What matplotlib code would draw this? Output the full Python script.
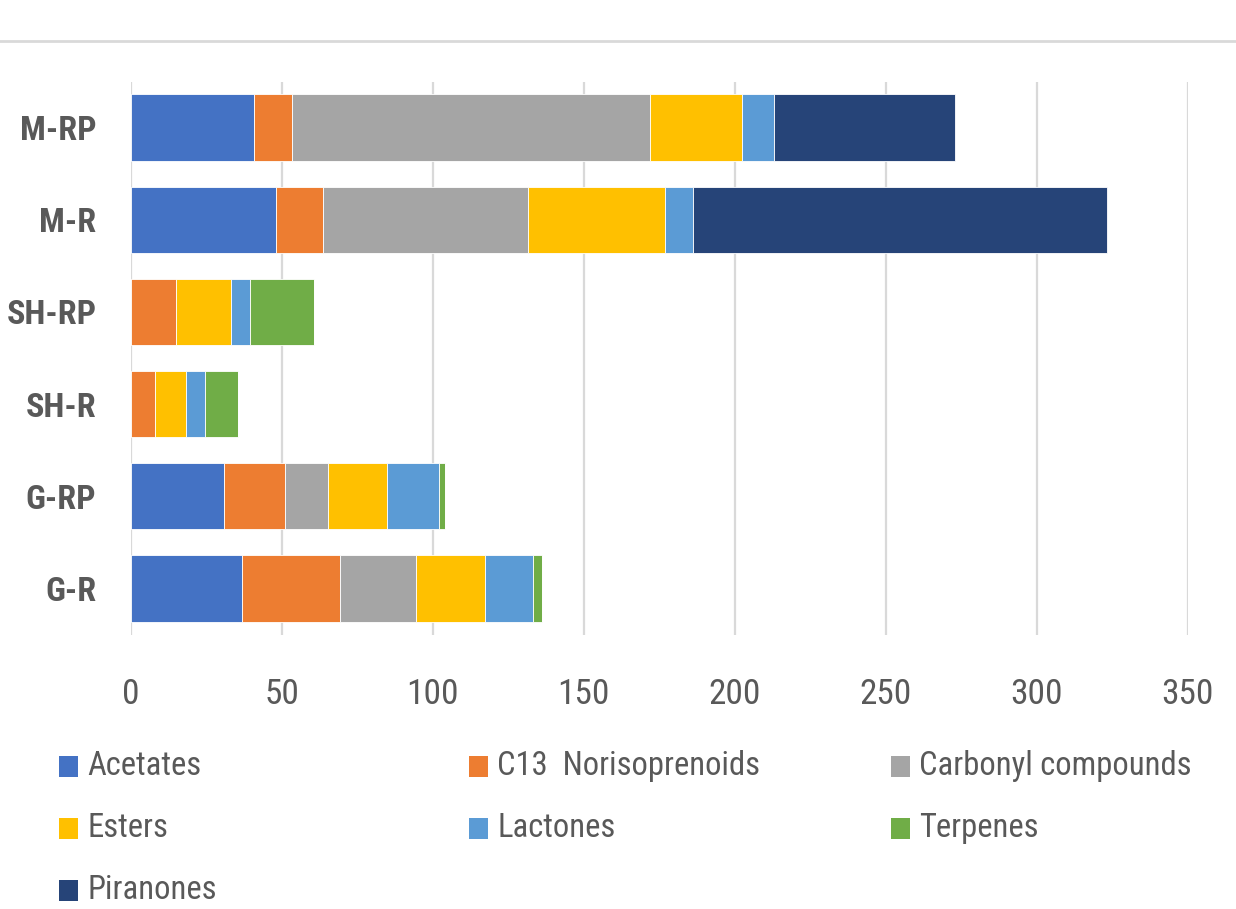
import matplotlib
matplotlib.use("Agg")
import matplotlib.pyplot as plt
from matplotlib import font_manager
from matplotlib.font_manager import FontProperties
from matplotlib.patches import Rectangle
from matplotlib.lines import Line2D

# ---- data -------------------------------------------------------------
samples = ["M-RP", "M-R", "SH-RP", "SH-R", "G-RP", "G-R"]
acetates = [40.7, 47.9, 0.0, 0.0, 30.8, 36.8]
c13_norisoprenoids = [12.7, 15.7, 15.0, 7.9, 20.2, 32.3]
carbonyl_compounds = [118.6, 67.8, 0.0, 0.0, 14.1, 25.2]
esters = [30.5, 45.6, 18.2, 10.2, 19.8, 22.9]
lactones = [10.6, 9.3, 6.2, 6.5, 17.1, 16.0]
terpenes = [0.0, 0.0, 21.2, 10.7, 2.0, 3.1]
piranones = [59.9, 137.0, 0.0, 0.0, 0.0, 0.0]

series_names = ["Acetates", "C13  Norisoprenoids", "Carbonyl compounds",
                "Esters", "Lactones", "Terpenes", "Piranones"]
series_values = [acetates, c13_norisoprenoids, carbonyl_compounds,
                 esters, lactones, terpenes, piranones]
series_colors = ["#4472C4", "#ED7D31", "#A5A5A5", "#FFC000",
                 "#5B9BD5", "#70AD47", "#264478"]
x_ticks = [0, 50, 100, 150, 200, 250, 300, 350]

# ---- fonts: prefer a narrow sans, otherwise Roboto -----------------------
def pick_font():
    wanted = [("Liberation Sans Narrow", "normal", ""),
              ("Roboto Condensed", "normal", "Condensed"),
              ("Open Sans Condensed", "normal", "Condensed"),
              ("DejaVu Sans", "condensed", "Condensed")]
    for fam, stretch, marker in wanted:
        try:
            path = font_manager.findfont(
                FontProperties(family=fam, stretch=stretch),
                fallback_to_default=False)
        except Exception:
            continue
        if marker in path and (fam.split()[0] in path.replace("-", " ")
                               or fam.replace(" ", "") in path):
            return fam, stretch
    return "Roboto", "normal"


family, stretch = pick_font()
plt.rcParams["font.family"] = [family, "DejaVu Sans"]
plt.rcParams["font.stretch"] = stretch
text_color = "#595959"
grid_color = "#D9D9D9"

W, H = 1236, 909
fig = plt.figure(figsize=(W / 100, H / 100), dpi=100)
fig.patch.set_facecolor("white")
renderer = fig.canvas.get_renderer()


def fit_size(text, width_px, max_size, weight="normal"):
    """Largest size not above max_size whose rendered width is <= width_px."""
    t = fig.text(0, 0, text, fontsize=20, fontweight=weight,
                 fontstretch=stretch)
    w = t.get_window_extent(renderer).width
    t.remove()
    return min(max_size, 20 * width_px / w)


tick_size = fit_size("350", 54, 25.5)
cat_size = fit_size("SH-RP", 92, 24.5, weight="bold")
leg_size = fit_size("Carbonyl compounds", 286, 23.5)


def fx(px):
    return px / W


def fy(py):
    return 1 - py / H


# plot area in pixel coordinates
left, right, top, bottom = 131.0, 1187.5, 81.5, 634.5
ax = fig.add_axes([fx(left), fy(bottom), fx(right) - fx(left),
                   (bottom - top) / H])

ypos = list(range(len(samples)))[::-1]
cum = [0.0] * len(samples)
for name, vals, col in zip(series_names, series_values, series_colors):
    ax.barh(ypos, vals, left=cum, height=0.72, color=col,
            edgecolor="white", linewidth=0.6, label=name, zorder=3)
    cum = [c + v for c, v in zip(cum, vals)]

ax.set_xlim(0, 350)
ax.set_ylim(-0.5, len(samples) - 0.5)
ax.set_xticks(x_ticks)
ax.set_xticklabels([str(t) for t in x_ticks])
ax.set_yticks(ypos)
ax.set_yticklabels(samples, fontweight="bold")
ax.tick_params(axis="x", length=0, pad=31, labelsize=tick_size,
               labelcolor=text_color)
ax.tick_params(axis="y", length=0, pad=25, labelsize=cat_size,
               labelcolor=text_color)
for s in ax.spines.values():
    s.set_visible(False)
ax.grid(axis="x", color=grid_color, linewidth=1.6, zorder=0)
ax.set_axisbelow(True)

# thin rule across the top of the chart
fig.add_artist(Line2D([0, 1], [fy(41), fy(41)], color=grid_color,
                      linewidth=2.0, transform=fig.transFigure))

# legend laid out in three columns, filled row by row
col_x = [59, 469, 891]
row_y = [766, 828, 890]
box = 19
for i, (name, col) in enumerate(zip(series_names, series_colors)):
    r, c = divmod(i, 3)
    x0, yc = col_x[c], row_y[r]
    fig.add_artist(Rectangle((fx(x0), fy(yc + box / 2 + 1)), box / W,
                             (box + 2) / H, transform=fig.transFigure,
                             facecolor=col, edgecolor="none"))
    fig.text(fx(x0 + box + 9), fy(yc), name, fontsize=leg_size,
             color=text_color, va="center", ha="left")

fig.savefig("out.png", dpi=100, facecolor="white")
